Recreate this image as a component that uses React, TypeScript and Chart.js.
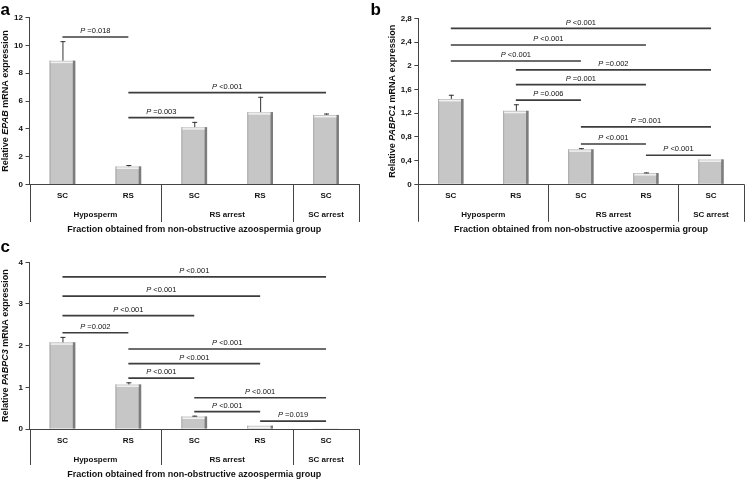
import React, { useEffect, useRef } from "react";
import { Chart, registerables } from "chart.js";

Chart.register(...registerables);

const FONT = '"Liberation Sans", Arial, Helvetica, sans-serif';

// ---------- data ----------
const categories = ["SC", "RS", "SC", "RS", "SC"];
const groupNames = ["Hyposperm", "RS arrest", "SC arrest"];
const groupStart = [0, 2, 4];
const groupEnd = [1, 3, 4];
const xAxisTitle = "Fraction obtained from non-obstructive azoospermia group";

const epabMean = [8.9, 1.3, 4.12, 5.2, 5.0];
const epabErr = [1.4, 0.1, 0.38, 1.1, 0.1];
const epabTicks = ["0", "2", "4", "6", "8", "10", "12"];
// [from, to, y, label]
const epabSig: [number, number, number, string][] = [
  [0, 1, 10.6, "=0.018"],
  [1, 4, 6.6, "<0.001"],
  [1, 2, 4.8, "=0.003"],
];

const pabpc1Mean = [1.44, 1.24, 0.59, 0.19, 0.42];
const pabpc1Err = [0.07, 0.11, 0.02, 0.01, 0];
const pabpc1Ticks = ["0", "0,4", "0,8", "1,2", "1,6", "2", "2,4", "2,8"];
const pabpc1Sig: [number, number, number, string][] = [
  [0, 4, 2.63, "<0.001"],
  [0, 3, 2.35, "<0.001"],
  [0, 2, 2.08, "<0.001"],
  [1, 4, 1.93, "=0.002"],
  [1, 3, 1.68, "=0.001"],
  [1, 2, 1.42, "=0.006"],
  [2, 4, 0.97, "=0.001"],
  [2, 3, 0.68, "<0.001"],
  [3, 4, 0.49, "<0.001"],
];

const pabpc3Mean = [2.08, 1.07, 0.3, 0.08, 0.02];
const pabpc3Err = [0.13, 0.05, 0.02, 0, 0];
const pabpc3Ticks = ["0", "1", "2", "3", "4"];
const pabpc3Sig: [number, number, number, string][] = [
  [0, 4, 3.65, "<0.001"],
  [0, 3, 3.19, "<0.001"],
  [0, 2, 2.72, "<0.001"],
  [0, 1, 2.31, "=0.002"],
  [1, 4, 1.92, "<0.001"],
  [1, 3, 1.57, "<0.001"],
  [1, 2, 1.22, "<0.001"],
  [2, 4, 0.75, "<0.001"],
  [2, 3, 0.415, "<0.001"],
  [3, 4, 0.19, "=0.019"],
];

type Panel = {
  letter: string;
  gene: string;
  mean: number[];
  err: number[];
  ticks: string[];
  step: number;
  max: number;
  sig: [number, number, number, string][];
  left: number;
  top: number;
  width: number;
  height: number;
  yAxisW: number;
  padTop: number;
  padRight: number;
  xAxisH: number;
  titleX: number;
  letterY: number;
  frameH: number;
};

function makePlugin(p: Panel) {
  return {
    id: "annot" + p.letter,
    afterDraw(chart: any) {
      const ctx = chart.ctx as CanvasRenderingContext2D;
      const xs = chart.scales.x;
      const ys = chart.scales.y;
      const a = chart.chartArea;
      ctx.save();

      // bar 3D look
      const meta = chart.getDatasetMeta(0);
      meta.data.forEach((el: any) => {
        const l = el.x - el.width / 2;
        const r = el.x + el.width / 2;
        const t = el.y;
        const b = el.base;
        if (b - t < 1.5) return;
        ctx.fillStyle = "#7c7c7c";
        ctx.fillRect(r - 2.5, t, 2.5, b - t);
        ctx.fillStyle = "#a8a8a8";
        ctx.fillRect(l, t, 1, b - t);
        ctx.fillStyle = "#f2f2f2";
        ctx.fillRect(l + 1, t + 1, r - l - 3.5, 1.5);
      });

      // error bars
      ctx.strokeStyle = "#333";
      ctx.lineWidth = 1;
      p.mean.forEach((v, i) => {
        const e = p.err[i];
        if (!e) return;
        const cx = xs.getPixelForValue(i);
        const y1 = ys.getPixelForValue(v);
        const y2 = ys.getPixelForValue(v + e);
        ctx.beginPath();
        ctx.moveTo(cx + 0.5, y1);
        ctx.lineTo(cx + 0.5, y2);
        ctx.moveTo(cx - 2, y2 + 0.5);
        ctx.lineTo(cx + 3, y2 + 0.5);
        ctx.stroke();
      });

      // significance lines
      p.sig.forEach(([f, t, yv, lab]) => {
        const xa = xs.getPixelForValue(f);
        const xb = xs.getPixelForValue(t);
        const yp = ys.getPixelForValue(yv);
        ctx.strokeStyle = "#3c3c3c";
        ctx.lineWidth = 1.7;
        ctx.beginPath();
        ctx.moveTo(xa, yp);
        ctx.lineTo(xb, yp);
        ctx.stroke();
        ctx.fillStyle = "#111";
        ctx.textBaseline = "alphabetic";
        ctx.textAlign = "left";
        ctx.font = `italic 7.5px ${FONT}`;
        const wP = ctx.measureText("P").width;
        ctx.font = `7.5px ${FONT}`;
        const rest = " " + lab;
        const wR = ctx.measureText(rest).width;
        const sx = (xa + xb) / 2 - (wP + wR) / 2;
        const by = yp - 3.8;
        ctx.font = `italic 7.5px ${FONT}`;
        ctx.fillText("P", sx, by);
        ctx.font = `7.5px ${FONT}`;
        ctx.fillText(rest, sx + wP, by);
      });

      // frame below axis
      const fb = a.bottom + p.frameH;
      const divs = [a.left, a.right];
      for (let g = 0; g < groupStart.length - 1; g++) {
        divs.push((xs.getPixelForValue(groupEnd[g]) + xs.getPixelForValue(groupStart[g + 1])) / 2);
      }
      ctx.strokeStyle = "#444";
      ctx.lineWidth = 1;
      divs.forEach((dx) => {
        const x = Math.round(dx) + 0.5;
        ctx.beginPath();
        ctx.moveTo(x, a.bottom);
        ctx.lineTo(x, fb);
        ctx.stroke();
      });

      // category labels
      ctx.fillStyle = "#111";
      ctx.textAlign = "center";
      ctx.textBaseline = "middle";
      ctx.font = `bold 8px ${FONT}`;
      categories.forEach((c, i) => {
        ctx.fillText(c, xs.getPixelForValue(i), a.bottom + 11.5);
      });
      groupNames.forEach((g, i) => {
        const cx = (xs.getPixelForValue(groupStart[i]) + xs.getPixelForValue(groupEnd[i])) / 2;
        ctx.fillText(g, cx, a.bottom + 30.5);
      });
      ctx.font = `bold 9px ${FONT}`;
      ctx.fillText(xAxisTitle, (a.left + a.right) / 2, a.bottom + 45.5);

      // y title
      const parts: [string, string][] = [
        ["Relative ", `bold 9px ${FONT}`],
        [p.gene, `italic bold 9px ${FONT}`],
        [" mRNA expression", `bold 9px ${FONT}`],
      ];
      let tot = 0;
      parts.forEach(([s, f]) => {
        ctx.font = f;
        tot += ctx.measureText(s).width;
      });
      ctx.save();
      ctx.translate(p.titleX, (a.top + a.bottom) / 2);
      ctx.rotate(-Math.PI / 2);
      ctx.textAlign = "left";
      ctx.textBaseline = "middle";
      let px = -tot / 2;
      parts.forEach(([s, f]) => {
        ctx.font = f;
        ctx.fillText(s, px, 0);
        px += ctx.measureText(s).width;
      });
      ctx.restore();

      // panel letter
      ctx.font = `bold 17px ${FONT}`;
      ctx.textAlign = "left";
      ctx.textBaseline = "alphabetic";
      ctx.fillStyle = "#000";
      ctx.fillText(p.letter, 0.5, p.letterY);

      ctx.restore();
    },
  };
}

function ChartPanel({ p }: { p: Panel }) {
  const ref = useRef<HTMLCanvasElement>(null);
  useEffect(() => {
    if (!ref.current) return;
    const chart = new Chart(ref.current, {
      type: "bar",
      data: {
        labels: categories,
        datasets: [
          {
            data: p.mean,
            backgroundColor: "#c6c6c6",
            borderColor: "#8c8c8c",
            borderWidth: 0,
            barPercentage: 0.39,
            categoryPercentage: 1,
          },
        ],
      },
      options: {
        responsive: false,
        animation: false,
        devicePixelRatio: 1,
        layout: { padding: { top: p.padTop, right: p.padRight, left: 0, bottom: 0 } },
        plugins: { legend: { display: false }, tooltip: { enabled: false } },
        scales: {
          x: {
            grid: { display: false },
            ticks: { display: false },
            border: { display: true, color: "#444", width: 1 },
            afterFit: (s: any) => {
              s.height = p.xAxisH;
            },
          },
          y: {
            min: 0,
            max: p.max,
            ticks: {
              stepSize: p.step,
              color: "#111",
              padding: 2.5,
              font: { family: FONT, size: 8, weight: "bold" },
              callback: (_v: any, i: number) => p.ticks[i],
            },
            grid: { drawOnChartArea: false, drawTicks: true, tickLength: 4, color: "#444" },
            border: { display: true, color: "#444", width: 1 },
            afterFit: (s: any) => {
              s.width = p.yAxisW;
            },
          },
        },
      },
      plugins: [makePlugin(p)],
    } as any);
    return () => chart.destroy();
  }, [p]);
  return (
    <canvas
      ref={ref}
      width={p.width}
      height={p.height}
      style={{ position: "absolute", left: p.left, top: p.top, width: p.width, height: p.height }}
    />
  );
}

const panels: Panel[] = [
  {
    letter: "a", gene: "EPAB", mean: epabMean, err: epabErr, ticks: epabTicks, step: 2, max: 12, sig: epabSig,
    left: 0, top: 0, width: 370, height: 240, yAxisW: 29.5, padTop: 17.5, padRight: 11, xAxisH: 55.5,
    titleX: 6, letterY: 15, frameH: 37.5,
  },
  {
    letter: "b", gene: "PABPC1", mean: pabpc1Mean, err: pabpc1Err, ticks: pabpc1Ticks, step: 0.4, max: 2.8, sig: pabpc1Sig,
    left: 370, top: 0, width: 376, height: 240, yAxisW: 48.3, padTop: 18.3, padRight: 2.5, xAxisH: 55.7,
    titleX: 22.5, letterY: 15, frameH: 37.5,
  },
  {
    letter: "c", gene: "PABPC3", mean: pabpc3Mean, err: pabpc3Err, ticks: pabpc3Ticks, step: 1, max: 4, sig: pabpc3Sig,
    left: 0, top: 240, width: 370, height: 239, yAxisW: 29.5, padTop: 22.3, padRight: 11, xAxisH: 50,
    titleX: 6, letterY: 12, frameH: 36,
  },
];

export default function App() {
  return (
    <div style={{ position: "fixed", left: 0, top: 0, width: 746, height: 479, background: "#fff", overflow: "hidden" }}>
      {panels.map((p) => (
        <ChartPanel key={p.letter} p={p} />
      ))}
    </div>
  );
}
